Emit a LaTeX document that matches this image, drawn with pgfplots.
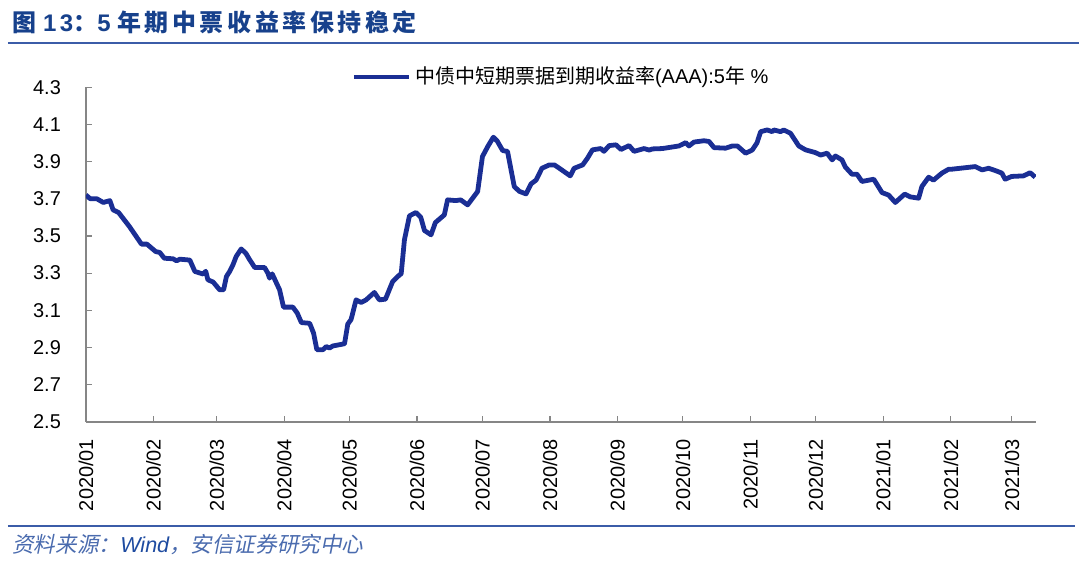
\documentclass[border=0pt]{standalone}
\usepackage{fontspec}
\setmainfont{Liberation Sans}
\newfontfamily\cjk{Noto Sans CJK SC}
\newfontfamily\cjkit[FakeSlant=0.2]{Noto Sans CJK SC}
\newfontfamily\titlecjk[LetterSpace=15]{Noto Sans CJK SC}
\newfontfamily\titlelat[LetterSpace=15]{Liberation Sans}
\usepackage{pgfplots}
\pgfplotsset{compat=1.18}
\definecolor{titleblue}{HTML}{17418C}
\definecolor{ruleblue}{HTML}{3B5CA8}
\definecolor{footcjk}{HTML}{4A6BAE}
\definecolor{footlat}{HTML}{1E4BA0}
\definecolor{serblue}{RGB}{26,46,148}
\definecolor{axgray}{HTML}{868686}
\begin{document}
\begin{tikzpicture}[x=1pt,y=1pt]
\path (0,0) rectangle (540,284);
\node[anchor=west, inner sep=0pt, text=titleblue, font=\fontsize{12}{14}\selectfont\bfseries] at (6,273) {{\titlecjk 图} {\titlelat 13}{\titlecjk ：}{\titlelat 5} {\titlecjk 年期中票收益率保持稳定}};
\draw[color=ruleblue, line width=1.2pt] (4,262.5) -- (540,262.5);
\draw[color=ruleblue, line width=1.0pt] (4,20.5) -- (538,20.5);
\node[anchor=west, inner sep=0pt, font=\fontsize{10.8}{12}\selectfont] at (6,11.5) {\textcolor{footcjk}{\cjkit 资料来源：}\textcolor{footlat}{\itshape Wind}\textcolor{footcjk}{\cjkit ，安信证券研究中心}};
\begin{axis}[
  at={(43pt,72.85pt)}, anchor=south west,
  scale only axis, width=475.5pt, height=167.5pt,
  xmin=0, xmax=436, ymin=2.5, ymax=4.3,
  axis x line*=bottom, axis y line*=left,
  axis line style={axgray, line width=0.75pt, -},
  tick style={axgray, line width=0.6pt},
  tick align=inside, major tick length=3pt,
  ytick={2.5,2.7,2.9,3.1,3.3,3.5,3.7,3.9,4.1,4.3},
  yticklabel style={/pgf/number format/.cd, fixed, fixed zerofill, precision=1, assume math mode=true},
  yticklabel shift=9pt,
  xtick={0,31,60,91,121,152,182,213,244,274,305,335,366,397,425},
  xticklabels={2020/01,2020/02,2020/03,2020/04,2020/05,2020/06,2020/07,2020/08,2020/09,2020/10,2020/11,2020/12,2021/01,2021/02,2021/03},
  xticklabel style={rotate=90, anchor=east},
  xticklabel shift=5pt,
  ticklabel style={font=\fontsize{10}{12}\selectfont},
  legend style={at={(0.2797,1.0307)}, anchor=west, draw=none, fill=none, inner sep=0pt, font=\fontsize{10}{12}\selectfont},
  legend image code/.code={\draw[#1, line width=2pt] (0pt,0pt) -- (27.7pt,0pt);},
]
\addplot[serblue, line width=2.4pt, line join=round, mark=none] table {
x y
0 3.72
2 3.70
5 3.70
8 3.68
11 3.69
12.5 3.64
15 3.626
20 3.55
25.5 3.456
28 3.456
32 3.416
33.9 3.411
36 3.38
40 3.377
41.6 3.366
43.1 3.375
47.7 3.37
50 3.309
53.8 3.295
55 3.31
56 3.264
58.4 3.252
61.4 3.21
63.2 3.21
64.5 3.282
66 3.309
67.5 3.345
69 3.39
71.3 3.43
73.5 3.405
75 3.375
77.5 3.33
82 3.33
83.5 3.30
84.3 3.273
85.5 3.296
88.9 3.21
90.7 3.117
95 3.117
97 3.085
98.9 3.034
102.7 3.03
104.5 2.977
106 2.888
108.8 2.888
110.3 2.905
111.8 2.897
113.3 2.908
118.7 2.92
120.2 3.026
121.7 3.05
124 3.156
126.3 3.142
128.6 3.156
132.4 3.196
134.7 3.156
137.5 3.16
140.8 3.255
143.9 3.29
144.7 3.296
146.2 3.479
148.5 3.608
151.5 3.626
153.7 3.60
155.4 3.529
158.4 3.506
160.4 3.572
164.5 3.613
166 3.694
169.8 3.69
172 3.694
175.2 3.667
179.8 3.739
182 3.927
184.4 3.98
187 4.031
188.8 4.01
191.3 3.959
193.5 3.955
196.6 3.766
198.9 3.74
202 3.726
204.3 3.78
206.6 3.80
209.3 3.864
212.7 3.882
215 3.882
217.3 3.864
222.3 3.823
224.1 3.864
228 3.882
230.2 3.918
232.5 3.963
236.3 3.97
237.8 3.955
240.2 3.986
243.3 3.99
245.6 3.965
249.3 3.986
251.6 3.955
256.2 3.97
258.5 3.962
260 3.968
264.6 3.97
272.2 3.984
275.3 4.002
276.8 3.984
279.1 4.005
283.7 4.012
286 4.008
288.3 3.975
293.6 3.972
296.7 3.984
299 3.984
302.8 3.945
305.8 3.962
308 4.0
309.7 4.061
312.7 4.07
315 4.061
315.8 4.07
318.8 4.061
320.3 4.07
323.4 4.052
327.2 3.984
330.3 3.963
334.9 3.948
337.2 3.935
340.2 3.945
342.5 3.909
344 3.93
347 3.909
348.6 3.87
351.6 3.832
353.9 3.832
356.2 3.793
361.6 3.805
365.4 3.733
368.4 3.72
371.5 3.68
375.8 3.725
378.4 3.71
382.2 3.703
383.7 3.766
386.8 3.816
389 3.80
392.9 3.838
396 3.859
397.5 3.859
408.2 3.873
411.3 3.855
414.3 3.864
417.3 3.852
420.4 3.838
421.9 3.805
424.9 3.82
430.3 3.823
433.4 3.84
435.7 3.816
};
\addlegendentry{{\cjk 中债中短期票据到期收益率}(AAA):5{\cjk 年} \%}
\end{axis}
\end{tikzpicture}
\end{document}
